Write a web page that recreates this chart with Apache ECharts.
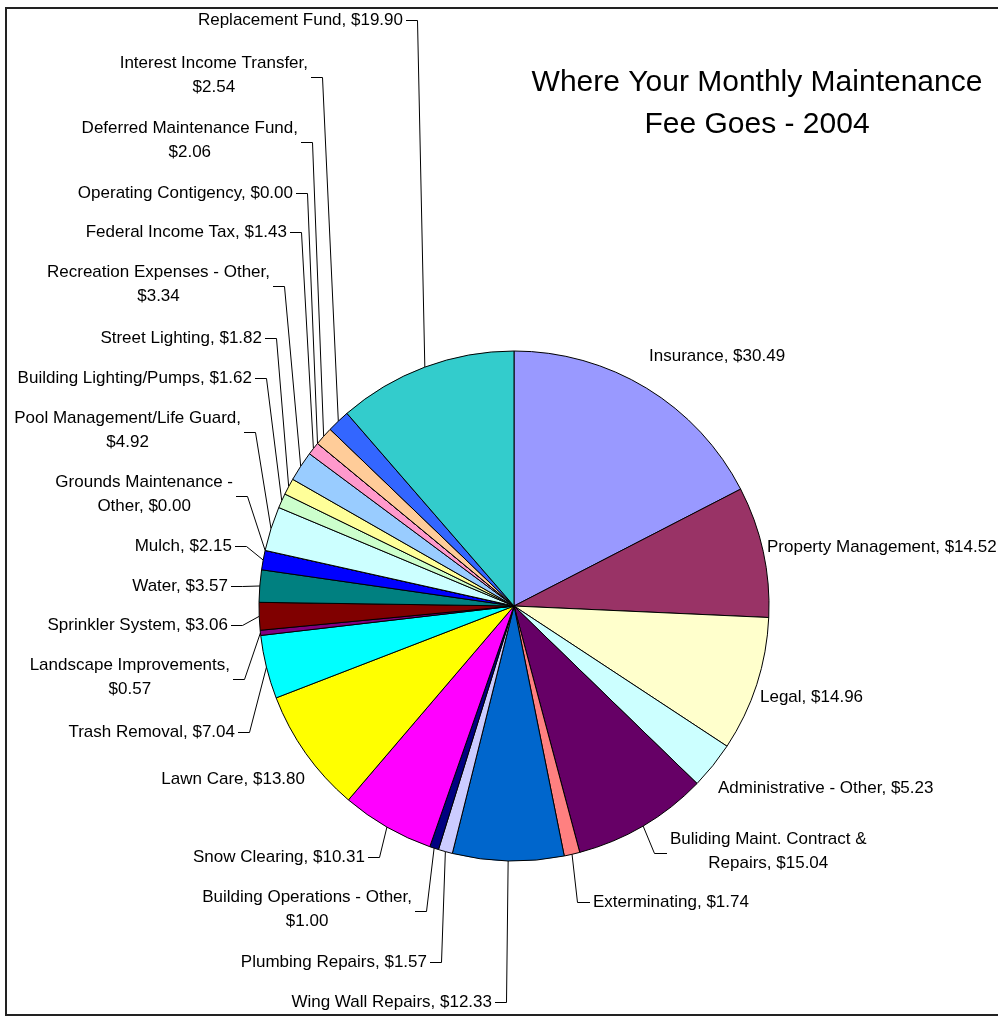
<!DOCTYPE html>
<html>
<head>
<meta charset="utf-8">
<script src="https://cdn.jsdelivr.net/npm/echarts@6/dist/echarts.min.js"></script>
<style>
html,body{margin:0;padding:0;background:#fff;}
#chart{width:998px;height:1017px;}
</style>
</head>
<body>
<div id="chart"></div>
<script>
// ---- data ----
const categories = [
  'Insurance', 'Property Management', 'Legal', 'Administrative - Other',
  'Buliding Maint. Contract & Repairs', 'Exterminating', 'Wing Wall Repairs',
  'Plumbing Repairs', 'Building Operations - Other', 'Snow Clearing', 'Lawn Care',
  'Trash Removal', 'Landscape Improvements', 'Sprinkler System', 'Water', 'Mulch',
  'Grounds Maintenance - Other', 'Pool Management/Life Guard', 'Building Lighting/Pumps',
  'Street Lighting', 'Recreation Expenses - Other', 'Federal Income Tax',
  'Operating Contigency', 'Deferred Maintenance Fund', 'Interest Income Transfer',
  'Replacement Fund'
];
const values = [
  30.49, 14.52, 14.96, 5.23, 15.04, 1.74, 12.33, 1.57, 1.00, 10.31, 13.80,
  7.04, 0.57, 3.06, 3.57, 2.15, 0.00, 4.92, 1.62, 1.82, 3.34, 1.43,
  0.00, 2.06, 2.54, 19.90
];
const colors = [
  '#9999FF', '#993366', '#FFFFCC', '#CCFFFF', '#660066', '#FF8080', '#0066CC',
  '#CCCCFF', '#000080', '#FF00FF', '#FFFF00', '#00FFFF', '#800080', '#800000',
  '#008080', '#0000FF', '#00CCFF', '#CCFFFF', '#CCFFCC', '#FFFF99', '#99CCFF',
  '#FF99CC', '#CC99FF', '#FFCC99', '#3366FF', '#33CCCC'
];
// number of words on first label line (0 = single line)
const labelWrapWords = [0,0,0,0,4,0,0,0,4,0,0,0,2,0,0,0,3,3,0,0,4,0,0,3,3,0];

// ---- label placement (layout only): [side, text edge x, block centre y, leader line] ----
const labelPlace = [
  ['R', 649, 356, false], ['R', 767, 547, false], ['R', 760, 697, false],
  ['R', 718, 788, false], ['R', 670, 851, true],  ['R', 593, 902, true],
  ['L', 492, 1002, true], ['L', 427, 962, true],  ['L', 412, 909, true],
  ['L', 365, 857, true],  ['L', 305, 779, false], ['L', 235, 732, true],
  ['L', 230, 677, true],  ['L', 228, 625, true],  ['L', 228, 586, true],
  ['L', 232, 546, true],  ['L', 233, 494, true],  ['L', 241, 430, true],
  ['L', 252, 378, true],  ['L', 262, 338, true],  ['L', 270, 284, true],
  ['L', 287, 232, true],  ['L', 293, 193, true],  ['L', 298, 140, true],
  ['L', 308, 75, true],   ['L', 403, 20, true]
];

function labelText(i) {
  const t = categories[i] + ', $' + values[i].toFixed(2);
  const n = labelWrapWords[i];
  if (!n) return t;
  const w = t.split(' ');
  return w.slice(0, n).join(' ') + '\n' + w.slice(n).join(' ');
}

const chart = echarts.init(document.getElementById('chart'), null, {renderer: 'canvas'});
const FONT = '"Liberation Sans", Arial, sans-serif';

const option = {
  animation: false,
  backgroundColor: '#fff',
  title: {
    text: 'Where Your Monthly Maintenance\nFee Goes - 2004',
    left: 752,
    top: 57,
    textAlign: 'center',
    textStyle: {fontFamily: FONT, fontSize: 30, fontWeight: 'normal', color: '#000', lineHeight: 42}
  },
  graphic: [{
    type: 'rect',
    shape: {x: 6, y: 8, width: 1000, height: 1007},
    style: {fill: 'none', stroke: '#222', lineWidth: 2},
    silent: true
  }],
  series: [{
    type: 'pie',
    center: [514, 606],
    radius: 255,
    startAngle: 90,
    clockwise: true,
    avoidLabelOverlap: false,
    emphasis: {disabled: true},
    itemStyle: {borderColor: '#000', borderWidth: 1},
    label: {
      show: true,
      position: 'outside',
      overflow: 'none',
      bleedMargin: 0,
      fontFamily: FONT,
      fontSize: 17,
      lineHeight: 24,
      color: '#000',
      formatter: function (p) { return labelText(p.dataIndex); }
    },
    labelLine: {show: true, length: 10, length2: 10, lineStyle: {color: '#000', width: 1}},
    labelLayout: function (p) {
      const s = labelPlace[p.dataIndex];
      const w = p.labelRect.width;
      const left = s[0] === 'L';
      const res = {
        x: left ? s[1] - w / 2 : s[1] + w / 2,
        y: s[2],
        align: 'center',
        verticalAlign: 'middle'
      };
      if (s[3] && p.labelLinePoints) {
        const a = p.labelLinePoints[0];
        const ly = s[2] + (labelWrapWords[p.dataIndex] ? 2 : 0) + 0.5;
        const e1 = left ? s[1] + 3 : s[1] - 3;
        const e2 = left ? s[1] + 14.5 : s[1] - 15.5;
        res.labelLinePoints = [[a[0], a[1]], [e2, ly], [e1, ly]];
      }
      return res;
    },
    data: categories.map(function (c, i) {
      return {
        name: c,
        value: values[i],
        itemStyle: {color: colors[i]},
        labelLine: {show: labelPlace[i][3]}
      };
    })
  }]
};
chart.setOption(option);
</script>
</body>
</html>
